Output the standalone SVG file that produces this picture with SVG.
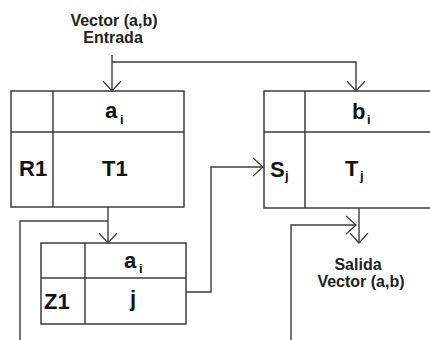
<svg xmlns="http://www.w3.org/2000/svg" width="430" height="340" viewBox="0 0 430 340">
<style>
.box{fill:none;stroke:#3c3c3c;stroke-width:1.5}
.ln{fill:none;stroke:#3c3c3c;stroke-width:1.4}
.big{font-family:"Liberation Sans",Arial,sans-serif;font-weight:bold;font-size:22px;fill:#111}
.sub{font-family:"Liberation Sans",Arial,sans-serif;font-weight:bold;font-size:13px;fill:#111}
.lbl{font-family:"Liberation Sans",Arial,sans-serif;font-weight:bold;font-size:16px;fill:#222;text-anchor:middle}
</style>
<defs>
<marker id="arr" viewBox="0 0 11 20" refX="10.5" refY="10" markerWidth="11" markerHeight="20" markerUnits="userSpaceOnUse" orient="auto">
<path d="M0.5,1 L10.5,10 L0.5,19" fill="none" stroke="#3c3c3c" stroke-width="1.3"/>
</marker>
</defs>
<rect width="430" height="340" fill="#fff"/>
<g id="connectors">
<polyline class="ln" points="112,55 112,91" marker-end="url(#arr)"/>
<polyline class="ln" points="112,62 356,62 356,91" marker-end="url(#arr)"/>
<polyline class="ln" points="108,207 108,243" marker-end="url(#arr)"/>
<polyline class="ln" points="108,221 20,221 20,340"/>
<polyline class="ln" points="186,292 211,292 211,167 263,167" marker-end="url(#arr)"/>
<polyline class="ln" points="359,208 359,243" marker-end="url(#arr)"/>
<polyline class="ln" points="291,340 291,225 356,225" marker-end="url(#arr)"/>
</g>
<g id="input-label">
<text class="lbl" x="114" y="26">Vector (a,b)</text>
<text class="lbl" x="113" y="43">Entrada</text>
</g>
<g id="output-label">
<text class="lbl" x="358" y="270">Salida</text>
<text class="lbl" x="361" y="287">Vector (a,b)</text>
</g>
<g id="node-R1">
<rect class="box" x="11" y="91" width="173" height="116"/>
<line class="box" x1="11" y1="132" x2="184" y2="132"/>
<line class="box" x1="53" y1="91" x2="53" y2="207"/>
<text class="big" x="105" y="118">a</text><text class="sub" x="120" y="124">i</text>
<text class="big" x="19" y="176">R1</text>
<text class="big" x="102" y="176">T1</text>
</g>
<g id="node-S">
<path class="box" d="M440,91 L264,91 L264,208 L440,208"/>
<line class="box" x1="264" y1="132" x2="440" y2="132"/>
<line class="box" x1="305" y1="91" x2="305" y2="208"/>
<text class="big" x="352" y="119">b</text><text class="sub" x="367" y="124">i</text>
<text class="big" x="270" y="177">S</text><text class="sub" x="285" y="180">j</text>
<text class="big" x="345" y="176">T</text><text class="sub" x="360" y="180">j</text>
</g>
<g id="node-Z1">
<rect class="box" x="41" y="243" width="145" height="81"/>
<line class="box" x1="41" y1="278" x2="186" y2="278"/>
<line class="box" x1="85" y1="243" x2="85" y2="324"/>
<text class="big" x="124" y="268">a</text><text class="sub" x="139" y="273">i</text>
<text class="big" x="44" y="309">Z1</text>
<text class="big" x="130" y="306">j</text>
</g>
</svg>
